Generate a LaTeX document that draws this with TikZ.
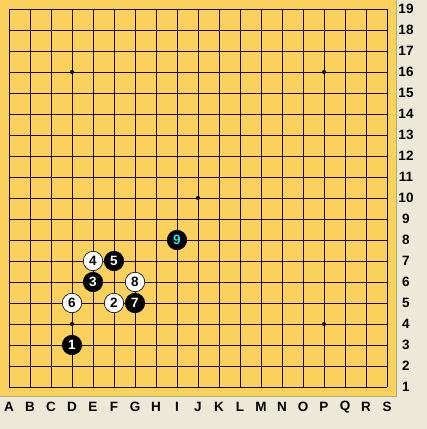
\documentclass[tikz,border=0pt]{standalone}
\usepackage{xcolor}
\usepackage{fontspec}
\usepackage{tikz}
\usetikzlibrary{positioning, calc}
\newfontfamily\boardfont{Liberation Sans}
\definecolor{boardyellow}{RGB}{249,209,92}
\definecolor{panelgray}{RGB}{236,233,216}
\definecolor{edgeolive}{RGB}{178,170,120}
\definecolor{gridline}{RGB}{30,10,0}
\definecolor{lastcyan}{RGB}{40,230,240}
\tikzset{
  stoneb/.style={circle, fill=black, draw=black, line width=0.6pt,
    minimum size=19.5pt, inner sep=0pt, text=white,
    font=\boardfont\fontsize{13.5}{13.5}\selectfont\bfseries},
  stonew/.style={stoneb, fill=white, text=black},
  coordlbl/.style={inner sep=0pt, font=\boardfont\fontsize{13.5}{13.5}\selectfont\bfseries},
  hoshi/.style={circle, fill=gridline, inner sep=0pt, minimum size=4.2pt}
}
\begin{document}
\begin{tikzpicture}[x=1pt, y=-1pt]
    \useasboundingbox (0,0) rectangle (427,429);
    \fill[panelgray] (0,0) rectangle (427,429);
    \fill[boardyellow] (0,0) rectangle (397,397);
    \draw[edgeolive, line width=1.5pt] (396.5,0) -- (396.5,396.5) -- (0,396.5);
    % grid
    \foreach \k in {0,...,18} {
      \draw[gridline, line width=1pt] (9+21*\k,9) -- (9+21*\k,387);
      \draw[gridline, line width=1pt] (9,9+21*\k) -- (387,9+21*\k);
    }
    % star points
    \foreach \cx/\cy in {72/72, 324/72, 198/198, 72/324, 324/324}
      \node[hoshi] at (\cx,\cy) {};
    % coordinates
    \foreach \c [count=\i from 0] in {A,B,C,D,E,F,G,H,I,J,K,L,M,N,O,P,Q,R,S}
      \node[coordlbl] (col\c) at (9+21*\i,407) {\c};
    \foreach \r in {1,...,19}
      \node[coordlbl] (row\r) at (406,9+21*19-21*\r) {\r};
    % stones
    \node[stoneb] (m1) at (72,345) {1};
    \node[stonew] (m2) at (114,303) {2};
    \node[stoneb] (m3) at (93,282) {3};
    \node[stonew] (m4) at (93,261) {4};
    \node[stoneb] (m5) at (114,261) {5};
    \node[stonew] (m6) at (72,303) {6};
    \node[stoneb] (m7) at (135,303) {7};
    \node[stonew] (m8) at (135,282) {8};
    \node[stoneb, text=lastcyan] (m9) at (177,240) {9};
\end{tikzpicture}
\end{document}
